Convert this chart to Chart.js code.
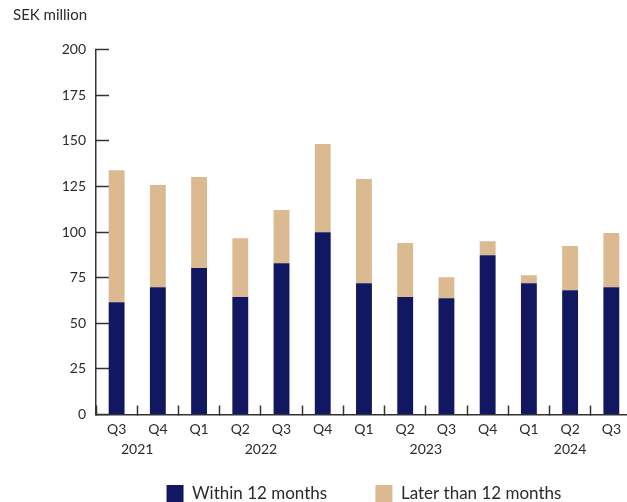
<!DOCTYPE html>
<html>
<head>
<meta charset="utf-8">
<script src="https://cdn.jsdelivr.net/npm/chart.js@4/dist/chart.umd.min.js"></script>
<style>
  html, body { margin: 0; padding: 0; background: #fff; }
  #wrap { width: 627px; height: 502px; overflow: hidden; position: relative; }
  canvas { display: block; }
</style>
</head>
<body>
<div id="wrap"><canvas id="chart" width="637" height="512"></canvas></div>
<script>
const quarters = ['Q3', 'Q4', 'Q1', 'Q2', 'Q3', 'Q4', 'Q1', 'Q2', 'Q3', 'Q4', 'Q1', 'Q2', 'Q3'];
const quarterYears = ['2021', '2021', '2022', '2022', '2022', '2022', '2023', '2023', '2023', '2023', '2024', '2024', '2024'];
const within12 = [61.6, 69.8, 80.3, 64.4, 83.0, 100.0, 72.0, 64.4, 63.8, 87.3, 72.0, 68.2, 69.8];
const later12 = [72.4, 56.0, 49.9, 32.3, 29.1, 48.3, 57.1, 29.6, 11.5, 7.7, 4.4, 24.2, 29.7];
const yTicks = [0, 25, 50, 75, 100, 125, 150, 175, 200];

const NAVY = '#111760';
const TAN = '#DBBA91';
const INK = '#2b2b2b';
const AXIS = '#333333';
const FONT = 'Lato, "Open Sans", sans-serif';

// year label sits under the middle of its quarters
const years = [...new Set(quarterYears)];
const yearCenters = years.map((y) => {
  const idx = quarterYears.map((q, i) => (q === y ? i : -1)).filter(i => i >= 0);
  return (idx[0] + idx[idx.length - 1]) / 2;
});

Chart.defaults.font.family = FONT;
Chart.defaults.color = INK;

new Chart(document.getElementById('chart'), {
  type: 'bar',
  data: {
    labels: quarters,
    datasets: [
      { label: 'Within 12 months', data: within12, backgroundColor: NAVY },
      { label: 'Later than 12 months', data: later12, backgroundColor: TAN }
    ]
  },
  options: {
    responsive: false,
    animation: false,
    devicePixelRatio: 1,
    layout: { padding: { left: 13, top: 0, right: 0, bottom: 0 } },
    datasets: { bar: { categoryPercentage: 1, barPercentage: 0.385 } },
    plugins: {
      title: {
        display: true,
        text: 'SEK million',
        align: 'start',
        color: INK,
        font: { size: 15, weight: 'normal' },
        padding: { top: 6, bottom: 25.8 }
      },
      legend: {
        position: 'bottom',
        fullSize: false,
        labels: {
          boxWidth: 17,
          boxHeight: 17,
          padding: 27,
          color: INK,
          font: { size: 17 },
          // wider gap after the first entry
          generateLabels: (chart) => {
            const items = Chart.defaults.plugins.legend.labels.generateLabels(chart);
            items[0].text += '\u2003\u2002';
            return items;
          }
        }
      },
      tooltip: { enabled: false }
    },
    scales: {
      x: {
        stacked: true,
        grid: { drawOnChartArea: false, tickLength: -9, tickColor: AXIS, tickWidth: 1.5 },
        border: { color: AXIS, width: 1.5 },
        ticks: { padding: 16, font: { size: 14 }, color: INK, maxRotation: 0 },
        afterFit: (s) => { s.height = 24; }
      },
      x2: {
        type: 'linear',
        position: 'bottom',
        offset: false,
        min: -0.5,
        max: quarters.length - 0.5,
        grid: { display: false, drawTicks: false },
        border: { display: false },
        ticks: {
          padding: 2.5,
          autoSkip: false,
          font: { size: 14 },
          color: INK,
          callback: (v) => years[yearCenters.indexOf(v)] || ''
        },
        afterBuildTicks: (s) => { s.ticks = yearCenters.map(v => ({ value: v })); },
        afterFit: (s) => { s.height = 19.5; }
      },
      y: {
        stacked: true,
        min: 0,
        max: 200,
        grid: { drawOnChartArea: false, tickLength: -13, tickColor: AXIS, tickWidth: 1.5 },
        border: { color: AXIS, width: 1.5 },
        ticks: { padding: 23, font: { size: 14 }, color: INK },
        afterBuildTicks: (s) => { s.ticks = yTicks.map(v => ({ value: v })); },
        afterFit: (s) => { s.width = 83; }
      }
    }
  }
});
</script>
</body>
</html>
